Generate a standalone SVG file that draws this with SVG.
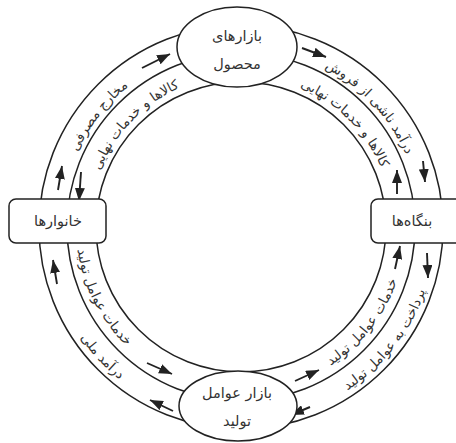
<svg xmlns="http://www.w3.org/2000/svg" xmlns:xlink="http://www.w3.org/1999/xlink" width="456" height="443" viewBox="0 0 456 443">
<style>
.ring{fill:none;stroke:#222;stroke-width:1.5}
.arr{fill:none;stroke:#222;stroke-width:1.9;marker-end:url(#ah)}
.node{fill:#fff;stroke:#222;stroke-width:1.5}
.lbl{font-family:"DejaVu Sans",sans-serif;font-size:14.5px;fill:#333;text-anchor:middle}
.band{font-family:"DejaVu Sans",sans-serif;font-size:13.5px;fill:#333;text-anchor:middle}
</style>
<defs>
<marker id="ah" markerUnits="userSpaceOnUse" markerWidth="14" markerHeight="10" refX="13" refY="5" orient="auto">
<path d="M0,0 L13,5 L0,10 z" fill="#222"/>
</marker>
<path id="p1" d="M61,227 A180,180 0 0 1 197.5,52.3"/>
<path id="p2" d="M262.9,48.3 A180,180 0 0 1 420.8,217.6"/>
<path id="p3" d="M89.4,216.4 A152,152 0 0 1 225.1,75.8"/>
<path id="p4" d="M254.3,75.6 A152,152 0 0 1 392.4,213.7"/>
<path id="p5" d="M46.3,237.2 A195,195 0 0 0 217.2,420.5"/>
<path id="p6" d="M281.5,417.7 A195,195 0 0 0 435.9,220.2"/>
<path id="p7" d="M80.2,189.9 A165,165 0 0 0 176.5,378.9"/>
<path id="p8" d="M275.3,388.4 A165,165 0 0 0 405.9,221.2"/>
</defs>
<rect width="456" height="443" fill="#fff"/>
<g id="connectors">
<circle class="ring" cx="241" cy="227" r="202"/>
<circle class="ring" cx="241" cy="227" r="174"/>
<circle class="ring" cx="241" cy="227" r="145"/>
<line class="arr" x1="142" y1="68" x2="170" y2="54"/>
<line class="arr" x1="58" y1="190" x2="62" y2="166"/>
<line class="arr" x1="302" y1="48" x2="326" y2="57"/>
<line class="arr" x1="423" y1="161" x2="425" y2="182"/>
<line class="arr" x1="427" y1="253" x2="428" y2="278"/>
<line class="arr" x1="310" y1="407" x2="291" y2="415"/>
<line class="arr" x1="173" y1="411" x2="150" y2="400"/>
<line class="arr" x1="57" y1="284" x2="53" y2="260"/>
<line class="arr" x1="81" y1="172" x2="79" y2="201"/>
<line class="arr" x1="397" y1="194" x2="397" y2="170"/>
<line class="arr" x1="395" y1="269" x2="400" y2="246"/>
<line class="arr" x1="295" y1="381" x2="319" y2="370"/>
<line class="arr" x1="147" y1="363" x2="172" y2="374"/>
<text class="band"><textPath xlink:href="#p1" href="#p1" startOffset="50%">مخارج مصرفی</textPath></text>
<text class="band"><textPath xlink:href="#p2" href="#p2" startOffset="50%">درآمد ناشی از فروش</textPath></text>
<text class="band"><textPath xlink:href="#p3" href="#p3" startOffset="50%">کالاها و خدمات نهایی</textPath></text>
<text class="band"><textPath xlink:href="#p4" href="#p4" startOffset="50%">کالاها و خدمات نهایی</textPath></text>
<text class="band"><textPath xlink:href="#p5" href="#p5" startOffset="50%">درآمد ملی</textPath></text>
<text class="band"><textPath xlink:href="#p6" href="#p6" startOffset="50%">پرداخت به عوامل تولید</textPath></text>
<text class="band"><textPath xlink:href="#p7" href="#p7" startOffset="50%">خدمات عوامل تولید</textPath></text>
<text class="band"><textPath xlink:href="#p8" href="#p8" startOffset="50%">خدمات عوامل تولید</textPath></text>
</g>
<g id="product-market">
<ellipse class="node" cx="237" cy="47" rx="60" ry="40"/>
<text class="lbl" x="237" y="41">بازارهای</text>
<text class="lbl" x="237" y="69">محصول</text>
</g>
<g id="factor-market">
<ellipse class="node" cx="238" cy="406" rx="59" ry="35"/>
<text class="lbl" x="237" y="398">بازار عوامل</text>
<text class="lbl" x="237" y="426">تولید</text>
</g>
<g id="households">
<rect class="node" x="9" y="199" width="97" height="44" rx="7"/>
<text class="lbl" x="58" y="226">خانوارها</text>
</g>
<g id="firms">
<rect class="node" x="371" y="199" width="100" height="44" rx="7"/>
<text class="lbl" x="412" y="226">بنگاه‌ها</text>
</g>
</svg>
